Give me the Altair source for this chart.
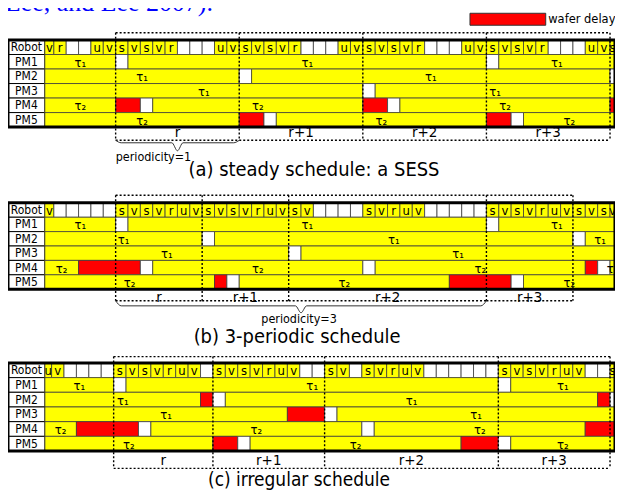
import altair as alt
import pandas as pd

W_SVG, H_SVG = 609, 482
PLOT_W = 609
FONT = "DejaVu Sans Condensed, DejaVu Sans, sans-serif"

ROWS = ["Robot", "PM1", "PM2", "PM3", "PM4", "PM5"]
KINDS = ["processing", "idle", "wafer delay"]
KIND_COLORS = ["#ffff00", "#ffffff", "#ff0000"]
TAU = ["", "τ₁", "τ₁", "τ₁", "τ₂", "τ₂"]
TOP_TEXT = "Lee, and Lee 2007)."

# ---------------- (a) steady schedule ----------------
A_CAPTION = "(a) steady schedule: a SESS"
A_START, A_END = -5.73, 40.4
A_ROBOT = ["v", "r", "", "", "u", "v",
           "s", "v", "s", "v", "r", "", "", "", "u", "v",
           "s", "v", "s", "v", "r", "", "", "", "u", "v",
           "s", "v", "s", "v", "r", "", "", "", "u", "v",
           "s", "v", "s", "v", "r", "", "", "", "u", "v",
           "s"]
A_SEGMENTS = [
    ("PM1", -5.73, 0, "processing"), ("PM1", 0, 1, "idle"), ("PM1", 1, 30, "processing"),
    ("PM1", 30, 31, "idle"), ("PM1", 31, 40.4, "processing"),
    ("PM2", -5.73, 10, "processing"), ("PM2", 10, 11, "idle"), ("PM2", 11, 40, "processing"),
    ("PM2", 40, 40.4, "idle"),
    ("PM3", -5.73, 20, "processing"), ("PM3", 20, 21, "idle"), ("PM3", 21, 40.4, "processing"),
    ("PM4", -5.73, 0, "processing"), ("PM4", 0, 2, "wafer delay"), ("PM4", 2, 3, "idle"),
    ("PM4", 3, 20, "processing"), ("PM4", 20, 22, "wafer delay"), ("PM4", 22, 23, "idle"),
    ("PM4", 23, 40, "processing"), ("PM4", 40, 40.4, "wafer delay"),
    ("PM5", -5.73, 10, "processing"), ("PM5", 10, 12, "wafer delay"), ("PM5", 12, 13, "idle"),
    ("PM5", 13, 30, "processing"), ("PM5", 30, 32, "wafer delay"), ("PM5", 32, 33, "idle"),
    ("PM5", 33, 40.4, "processing"),
]
A_BOUNDS = [0, 10, 20, 30, 40]
A_PERIODS = ["r", "r+1", "r+2", "r+3"]
A_BRACE = (0, 10, "periodicity=1")

# ---------------- (b) 3-periodic schedule ----------------
B_CAPTION = "(b) 3-periodic schedule"
B_START, B_END = -5.73, 40.4
B_ROBOT = ["v", "", "", "", "", "",
           "s", "v", "s", "v", "r", "u", "v",
           "s", "v", "s", "v", "r", "u", "v",
           "s", "v", "", "", "", "", "s", "v", "r", "u", "v", "", "", "", "", "",
           "s", "v", "s", "v", "r", "u", "v",
           "s", "v", "s", "v"]
B_SEGMENTS = [
    ("PM1", -5.73, 0, "processing"), ("PM1", 0, 1, "idle"), ("PM1", 1, 30, "processing"),
    ("PM1", 30, 31, "idle"), ("PM1", 31, 40.4, "processing"),
    ("PM2", -5.73, 7, "processing"), ("PM2", 7, 8, "idle"), ("PM2", 8, 37, "processing"),
    ("PM2", 37, 38, "idle"), ("PM2", 38, 40.4, "processing"),
    ("PM3", -5.73, 14, "processing"), ("PM3", 14, 15, "idle"), ("PM3", 15, 40.4, "processing"),
    ("PM4", -5.73, -3, "processing"), ("PM4", -3, 2, "wafer delay"), ("PM4", 2, 3, "idle"),
    ("PM4", 3, 20, "processing"), ("PM4", 20, 21, "idle"), ("PM4", 21, 38, "processing"),
    ("PM4", 38, 39, "wafer delay"), ("PM4", 39, 40, "idle"), ("PM4", 40, 40.4, "processing"),
    ("PM5", -5.73, 8, "processing"), ("PM5", 8, 9, "wafer delay"), ("PM5", 9, 10, "idle"),
    ("PM5", 10, 27, "processing"), ("PM5", 27, 32, "wafer delay"), ("PM5", 32, 33, "idle"),
    ("PM5", 33, 40.4, "processing"),
]
B_BOUNDS = [0, 7, 14, 30, 37]
B_PERIODS = ["r", "r+1", "r+2", "r+3"]
B_BRACE = (0, 30, "periodicity=3")

# ---------------- (c) irregular schedule ----------------
C_CAPTION = "(c) irregular schedule"
C_START, C_END = -5.54, 40.4
C_ROBOT = ["u", "v", "", "", "", "",
           "s", "v", "s", "v", "r", "u", "v", "",
           "s", "v", "s", "v", "r", "u", "v", "", "",
           "s", "v", "", "s", "v", "r", "u", "v", "", "", "", "", "", "",
           "s", "v", "s", "v", "r", "u", "v", "", "",
           "s"]
C_SEGMENTS = [
    ("PM1", -5.54, 0, "processing"), ("PM1", 0, 1, "idle"), ("PM1", 1, 31, "processing"),
    ("PM1", 31, 32, "idle"), ("PM1", 32, 40.4, "processing"),
    ("PM2", -5.54, 7, "processing"), ("PM2", 7, 8, "wafer delay"), ("PM2", 8, 9, "idle"),
    ("PM2", 9, 39, "processing"), ("PM2", 39, 40, "wafer delay"), ("PM2", 40, 40.4, "idle"),
    ("PM3", -5.54, 14, "processing"), ("PM3", 14, 17, "wafer delay"), ("PM3", 17, 18, "idle"),
    ("PM3", 18, 40.4, "processing"),
    ("PM4", -5.54, -3, "processing"), ("PM4", -3, 2, "wafer delay"), ("PM4", 2, 3, "idle"),
    ("PM4", 3, 20, "processing"), ("PM4", 20, 21, "idle"), ("PM4", 21, 38, "processing"),
    ("PM4", 38, 40.4, "wafer delay"),
    ("PM5", -5.54, 8, "processing"), ("PM5", 8, 10, "wafer delay"), ("PM5", 10, 11, "idle"),
    ("PM5", 11, 28, "processing"), ("PM5", 28, 31, "wafer delay"), ("PM5", 31, 32, "idle"),
    ("PM5", 32, 40.4, "processing"),
]
C_BOUNDS = [0, 8, 17, 31, 40]
C_PERIODS = ["r", "r+1", "r+2", "r+3"]

# ---------------- layout (pixels / row units) ----------------
A_LAYOUT = dict(ppu=12.4, zero=108, top=31.3, bottom=118.7, box_top=-0.50, lab=6.36,
                box_bot=6.91, brace=(6.91, 7.08, 7.63), brace_lab=(3.06, 8.08), cap=(16.05, 8.97))
B_LAYOUT = dict(ppu=12.4, zero=108, top=194.7, bottom=281.3, box_top=-0.53, lab=6.53,
                box_bot=6.81, brace=(6.81, 7.16, 7.64), brace_lab=(14.84, 8.06), cap=(14.68, 9.31))
C_LAYOUT = dict(ppu=12.45, zero=106, top=355.3, bottom=443.7, box_top=-0.43, lab=6.63,
                box_bot=7.18, cap=(14.94, 7.98))

LEGEND_PATH = "M-1,-0.158L1,-0.158L1,0.158L-1,0.158Z"
LEGEND_A = alt.Legend(values=["wafer delay"], title=None, orient="none", legendX=463, legendY=-28,
                      symbolType=LEGEND_PATH, symbolSize=5776, symbolStrokeColor="#333333",
                      symbolStrokeWidth=1, symbolOpacity=1, labelFont=FONT, labelFontSize=12.8,
                      labelColor="black", labelOffset=2, padding=0)


def cells_frame(robot, start, end, segments):
    recs = []
    for k, lab in enumerate(robot):
        a = max(start, k - 6)
        b = min(end, k - 5)
        recs.append(dict(t0=a, t1=b, r0=0, r1=1, kind="processing" if lab else "idle", text=lab))
    for name, a, b, kind in segments:
        i = ROWS.index(name)
        recs.append(dict(t0=a, t1=b, r0=i, r1=i + 1, kind=kind,
                         text=TAU[i] if kind == "processing" else ""))
    df = pd.DataFrame(recs)
    df["tm"] = (df.t0 + df.t1) / 2
    df["rm"] = df.r0 + 0.5
    return df


def panel(robot, start, end, segments, bounds, periods, brace, caption, L, legend, extra=None,
          cap_size=20):
    xmin = -L["zero"] / L["ppu"]
    xmax = (PLOT_W - L["zero"]) / L["ppu"]
    xs = alt.Scale(domain=[xmin, xmax], range=[0, PLOT_W], nice=False, zero=False)
    ys = alt.Scale(domain=[0, 6], range=[L["top"], L["bottom"]], nice=False, zero=False)

    def X(f):
        return alt.X(f, type="quantitative", scale=xs, axis=None)

    def Y(f):
        return alt.Y(f, type="quantitative", scale=ys, axis=None)

    layers = []
    lab = pd.DataFrame({"name": ROWS, "r0": list(range(6))})
    lab["r1"] = lab.r0 + 1
    lab["rm"] = lab.r0 + 0.5
    lab["t0"] = xmin
    lab["t1"] = start
    lab["tm"] = (xmin + start) / 2
    layers.append(alt.Chart(lab).mark_rect(fill="white", stroke="black", strokeWidth=1).encode(
        x=X("t0"), x2=alt.X2("t1"), y=Y("r0"), y2=alt.Y2("r1")))
    layers.append(alt.Chart(lab).mark_text(font=FONT, fontSize=12, color="black").encode(
        x=X("tm"), y=Y("rm"), text="name:N"))

    df = cells_frame(robot, start, end, segments)
    layers.append(alt.Chart(df).mark_rect(stroke="#3c3c3c", strokeWidth=0.8).encode(
        x=X("t0"), x2=alt.X2("t1"), y=Y("r0"), y2=alt.Y2("r1"),
        color=alt.Color("kind:N", scale=alt.Scale(domain=KINDS, range=KIND_COLORS), legend=legend)))
    txt = df[df.text != ""]
    layers.append(alt.Chart(txt).mark_text(font=FONT, fontSize=13, color="black", dy=1).encode(
        x=X("tm"), y=Y("rm"), text="text:N"))

    frame = pd.DataFrame({"t0": [xmin], "t1": [end], "r0": [0], "r1": [6]})
    layers.append(alt.Chart(frame).mark_rect(fillOpacity=0, stroke="black", strokeWidth=3).encode(
        x=X("t0"), x2=alt.X2("t1"), y=Y("r0"), y2=alt.Y2("r1")))

    # dotted period boxes
    vb = pd.DataFrame({"t": bounds, "ya": L["box_top"], "yb": L["box_bot"]})
    layers.append(alt.Chart(vb).mark_rule(color="black", strokeDash=[2, 2], strokeWidth=1.4).encode(
        x=X("t"), y=Y("ya"), y2=alt.Y2("yb")))
    hb = pd.DataFrame({"t0": [bounds[0]] + bounds[:-1], "t1": [bounds[-1]] + bounds[1:],
                       "y": [L["box_top"]] + [L["box_bot"]] * (len(bounds) - 1)})
    layers.append(alt.Chart(hb).mark_rule(color="black", strokeDash=[2, 2], strokeWidth=1.4).encode(
        x=X("t0"), x2=alt.X2("t1"), y=Y("y")))
    pl = pd.DataFrame({"tm": [(a + b) / 2 for a, b in zip(bounds[:-1], bounds[1:])],
                       "y": L["lab"], "text": periods})
    layers.append(alt.Chart(pl).mark_text(font=FONT, fontSize=15, color="black").encode(
        x=X("tm"), y=Y("y"), text="text:N"))

    if brace is not None:
        t0, t1, btxt = brace
        ye, yb, yt = L["brace"]
        mid = (t0 + t1) / 2
        k = 0.45
        bdf = pd.DataFrame({"bx": [t0, t0 + k, mid - k, mid, mid + k, t1 - k, t1],
                            "by": [ye, yb, yb, yt, yb, yb, ye]})
        layers.append(alt.Chart(bdf).mark_line(color="#333333", strokeWidth=1, interpolate="monotone").encode(
            x=X("bx"), y=Y("by")))
        bl = pd.DataFrame({"tm": [L["brace_lab"][0]], "y": [L["brace_lab"][1]], "text": [btxt]})
        layers.append(alt.Chart(bl).mark_text(font=FONT, fontSize=12.5, color="black").encode(
            x=X("tm"), y=Y("y"), text="text:N"))

    cp = pd.DataFrame({"tm": [L["cap"][0]], "y": [L["cap"][1]], "text": [caption]})
    layers.append(alt.Chart(cp).mark_text(font=FONT, fontSize=cap_size, color="black").encode(
        x=X("tm"), y=Y("y"), text="text:N"))

    if extra is not None:
        layers.append(extra)
    return alt.layer(*layers)


top_text = alt.Chart(pd.DataFrame({"text": [TOP_TEXT]})).mark_text(
    font="Liberation Serif", fontSize=26, color="#0000ff", align="left", baseline="alphabetic").encode(
    x=alt.value(-3), y=alt.value(2), text="text:N")

pa = panel(A_ROBOT, A_START, A_END, A_SEGMENTS, A_BOUNDS, A_PERIODS, A_BRACE, A_CAPTION,
           A_LAYOUT, LEGEND_A, extra=top_text)
pb = panel(B_ROBOT, B_START, B_END, B_SEGMENTS, B_BOUNDS, B_PERIODS, B_BRACE, B_CAPTION,
           B_LAYOUT, None)
pc = panel(C_ROBOT, C_START, C_END, C_SEGMENTS, C_BOUNDS, C_PERIODS, None, C_CAPTION,
           C_LAYOUT, None, cap_size=19)

chart = alt.layer(pa, pb, pc).resolve_scale(
    x="independent", y="independent", color="independent"
).properties(
    width=W_SVG, height=H_SVG, padding=0, autosize=alt.AutoSizeParams(type="none")
).configure_view(strokeWidth=0)

chart.save("out.html", embed_options={"renderer": "svg", "actions": False})
